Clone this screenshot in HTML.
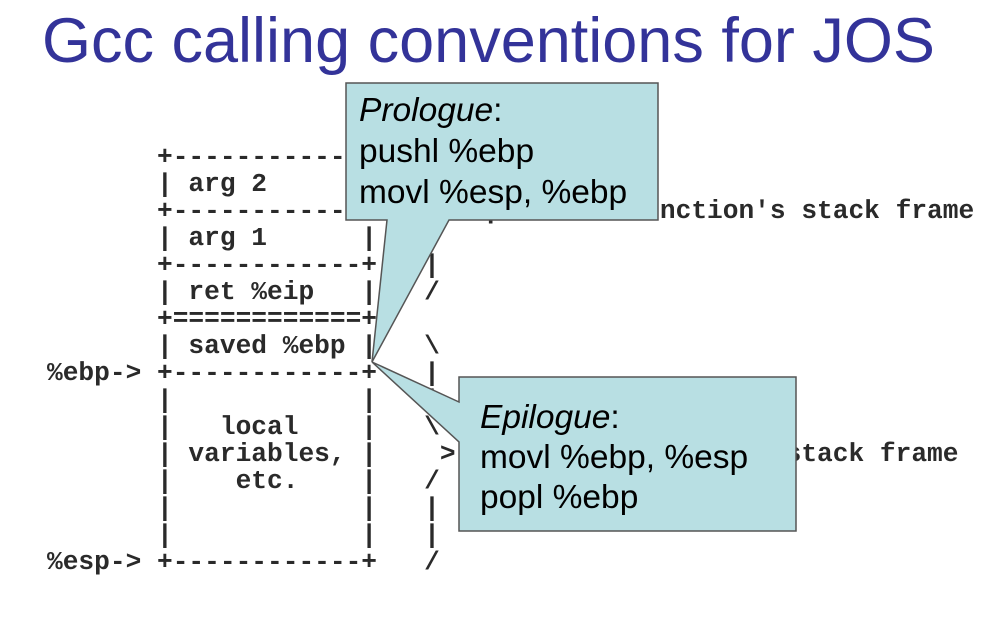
<!DOCTYPE html>
<html><head><meta charset="utf-8"><style>
html,body{margin:0;padding:0;background:#fff;}
svg{display:block;}
.m text{white-space:pre;}
</style></head><body>
<svg width="994" height="621" viewBox="0 0 994 621" xmlns="http://www.w3.org/2000/svg">
<text x="42" y="62" font-family="Liberation Sans, sans-serif" font-size="63" fill="#333399">Gcc calling conventions for JOS</text>
<g class="m" font-family="Liberation Mono, monospace" font-size="26.2" font-weight="bold" fill="#2a2a2a">
<text x="47" y="164">       +------------+   |</text>
<text x="47" y="191">       | arg 2      |   \</text>
<text x="47" y="218">       +------------+    >- previous function's stack frame</text>
<text x="47" y="245">       | arg 1      |   /</text>
<text x="47" y="272">       +------------+   |</text>
<text x="47" y="299">       | ret %eip   |   /</text>
<text x="47" y="326">       +============+</text>
<text x="47" y="353">       | saved %ebp |   \</text>
<text x="47" y="380">%ebp-> +------------+   |</text>
<text x="47" y="407">       |            |   |</text>
<text x="47" y="434">       |   local    |   \</text>
<text x="47" y="461">       | variables, |    >- current function's stack frame</text>
<text x="47" y="488">       |    etc.    |   /</text>
<text x="47" y="515">       |            |   |</text>
<text x="47" y="542">       |            |   |</text>
<text x="47" y="569">%esp-> +------------+   /</text>
</g>
<path d="M346,83 L658,83 L658,220 L449,220 L372,362 L387,220 L346,220 Z" fill="#b8dfe3" stroke="#555" stroke-width="1.5"/>
<path d="M459,377 L796,377 L796,531 L459,531 L459,442 L372,362 L459,402 Z" fill="#b8dfe3" stroke="#555" stroke-width="1.5"/>
<g font-family="Liberation Sans, sans-serif" font-size="33.5" fill="#000">
<text x="359" y="121"><tspan font-style="italic">Prologue</tspan>:</text>
<text x="359" y="162">pushl %ebp</text>
<text x="359" y="203">movl %esp, %ebp</text>
<text x="480" y="428"><tspan font-style="italic">Epilogue</tspan>:</text>
<text x="480" y="468">movl %ebp, %esp</text>
<text x="480" y="508">popl %ebp</text>
</g>
</svg>
</body></html>
